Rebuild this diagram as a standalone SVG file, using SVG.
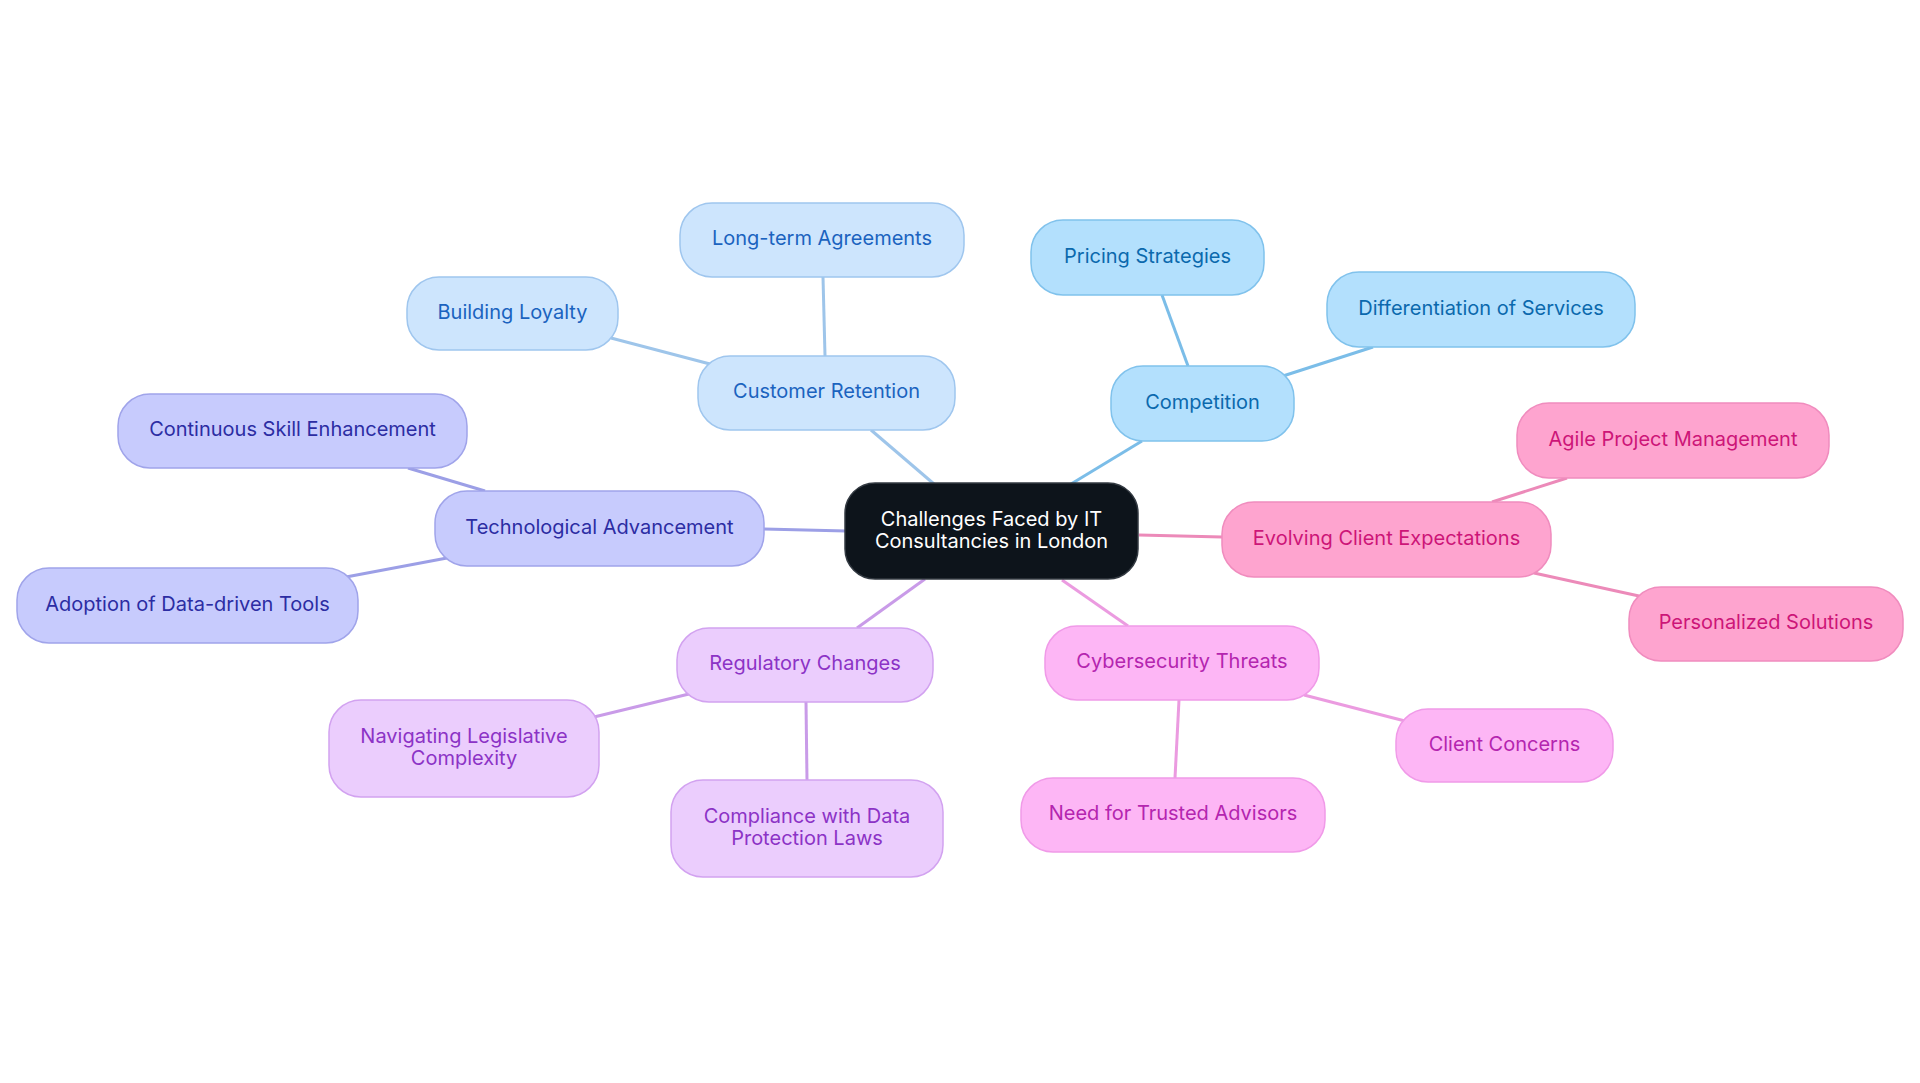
<svg xmlns="http://www.w3.org/2000/svg" width="1920" height="1083" viewBox="0 0 1920 1083">
<style>
text{font-family:Inter,"Noto Sans","Liberation Sans",sans-serif;font-size:20px;text-anchor:middle;dominant-baseline:central}
rect{stroke-width:1.5}
.c rect{fill:#0d141b;stroke:#333a42}.c text{fill:#ffffff}
.b1 rect{fill:#cde5fd;stroke:#9fc6ee}.b1 text{fill:#1b63bf}
.b2 rect{fill:#b3e0fd;stroke:#80c2ec}.b2 text{fill:#0b69ad}
.b3 rect{fill:#c7cbfd;stroke:#a0a4ea}.b3 text{fill:#2c2da3}
.b4 rect{fill:#ebcdfd;stroke:#d2a2f0}.b4 text{fill:#8c33c6}
.b5 rect{fill:#fdb6f5;stroke:#f09ae8}.b5 text{fill:#b425af}
.b6 rect{fill:#fea4cf;stroke:#f08cbe}.b6 text{fill:#cd1578}
#connectors line{stroke-width:3;fill:none}
.l1{stroke:#9ec5ea}.l2{stroke:#7bbde8}.l3{stroke:#9c9fe6}.l4{stroke:#c99be8}.l5{stroke:#eb9be0}.l6{stroke:#ec8ab9}
</style>
<rect width="1920" height="1083" fill="#ffffff"/>
<g id="connectors">
<line class="l1" x1="934" y1="484" x2="871" y2="430"/>
<line class="l1" x1="825" y1="356" x2="823" y2="277"/>
<line class="l1" x1="710" y1="364" x2="611" y2="338"/>
<line class="l2" x1="1071" y1="484" x2="1142" y2="441"/>
<line class="l2" x1="1188" y1="366" x2="1162" y2="295"/>
<line class="l2" x1="1283" y1="376" x2="1373" y2="347"/>
<line class="l6" x1="1139" y1="535" x2="1222" y2="537"/>
<line class="l6" x1="1492" y1="502" x2="1567" y2="478"/>
<line class="l6" x1="1534" y1="573" x2="1639" y2="596"/>
<line class="l5" x1="1062" y1="580" x2="1128" y2="626"/>
<line class="l5" x1="1304" y1="695" x2="1405" y2="721"/>
<line class="l5" x1="1179" y1="700" x2="1175" y2="778"/>
<line class="l4" x1="925" y1="579" x2="857" y2="628"/>
<line class="l4" x1="689" y1="694" x2="594" y2="717"/>
<line class="l4" x1="806" y1="702" x2="807" y2="780"/>
<line class="l3" x1="764" y1="529" x2="846" y2="531"/>
<line class="l3" x1="485" y1="491" x2="408" y2="468"/>
<line class="l3" x1="447" y1="558" x2="346" y2="577"/>
</g>
<g id="center" class="c"><rect x="845" y="483" width="293" height="96" rx="30"/><text x="991.5" y="518.5">Challenges Faced by IT</text><text x="991.5" y="540.5">Consultancies in London</text></g>
<g id="customer-retention" class="b1"><rect x="698" y="356" width="257" height="74" rx="32"/><text x="826.5" y="391">Customer Retention</text></g>
<g id="long-term-agreements" class="b1"><rect x="680" y="203" width="284" height="74" rx="32"/><text x="822" y="238">Long-term Agreements</text></g>
<g id="building-loyalty" class="b1"><rect x="407" y="277" width="211" height="73" rx="32"/><text x="512.5" y="311.5">Building Loyalty</text></g>
<g id="competition" class="b2"><rect x="1111" y="366" width="183" height="75" rx="32"/><text x="1202.5" y="401.5">Competition</text></g>
<g id="pricing-strategies" class="b2"><rect x="1031" y="220" width="233" height="75" rx="32"/><text x="1147.5" y="255.5">Pricing Strategies</text></g>
<g id="differentiation" class="b2"><rect x="1327" y="272" width="308" height="75" rx="32"/><text x="1481" y="307.5">Differentiation of Services</text></g>
<g id="evolving" class="b6"><rect x="1222" y="502" width="329" height="75" rx="32"/><text x="1386.5" y="537.5">Evolving Client Expectations</text></g>
<g id="agile" class="b6"><rect x="1517" y="403" width="312" height="75" rx="32"/><text x="1673" y="438.5">Agile Project Management</text></g>
<g id="personalized" class="b6"><rect x="1629" y="587" width="274" height="74" rx="32"/><text x="1766" y="622">Personalized Solutions</text></g>
<g id="cybersecurity" class="b5"><rect x="1045" y="626" width="274" height="74" rx="32"/><text x="1182" y="661">Cybersecurity Threats</text></g>
<g id="client-concerns" class="b5"><rect x="1396" y="709" width="217" height="73" rx="32"/><text x="1504.5" y="743.5">Client Concerns</text></g>
<g id="trusted-advisors" class="b5"><rect x="1021" y="778" width="304" height="74" rx="32"/><text x="1173" y="813">Need for Trusted Advisors</text></g>
<g id="regulatory" class="b4"><rect x="677" y="628" width="256" height="74" rx="32"/><text x="805" y="663">Regulatory Changes</text></g>
<g id="legislative" class="b4"><rect x="329" y="700" width="270" height="97" rx="32"/><text x="464" y="735.5">Navigating Legislative</text><text x="464" y="757.5">Complexity</text></g>
<g id="compliance" class="b4"><rect x="671" y="780" width="272" height="97" rx="32"/><text x="807" y="815.5">Compliance with Data</text><text x="807" y="837.5">Protection Laws</text></g>
<g id="technological" class="b3"><rect x="435" y="491" width="329" height="75" rx="32"/><text x="599.5" y="526.5">Technological Advancement</text></g>
<g id="skill" class="b3"><rect x="118" y="394" width="349" height="74" rx="32"/><text x="292.5" y="429">Continuous Skill Enhancement</text></g>
<g id="data-driven" class="b3"><rect x="17" y="568" width="341" height="75" rx="32"/><text x="187.5" y="603.5">Adoption of Data-driven Tools</text></g>
</svg>
